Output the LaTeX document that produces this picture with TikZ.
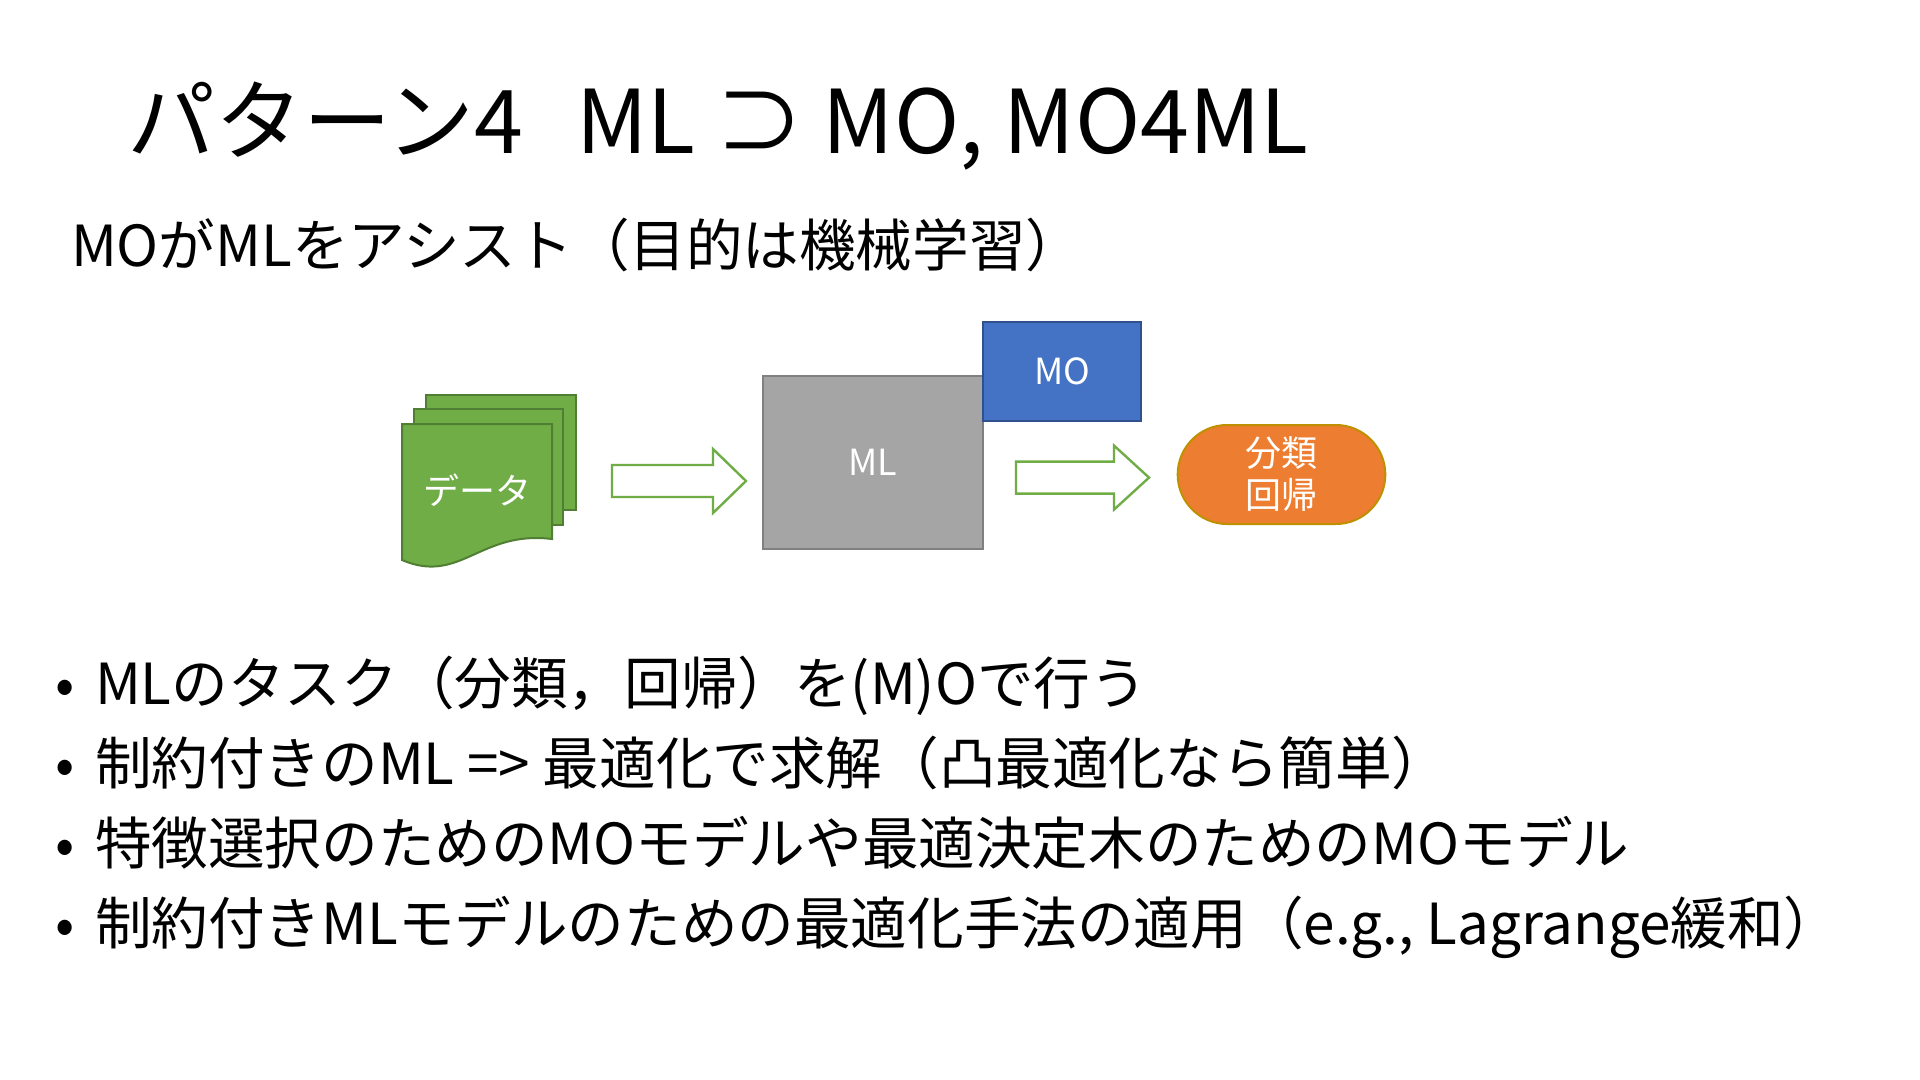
\documentclass[tikz,border=0pt]{standalone}
\usepackage{fontspec}
\setmainfont{Noto Sans CJK JP}
\usepackage{tikz}
\usetikzlibrary{shapes.misc}
\definecolor{datagreen}{HTML}{70AD47}
\definecolor{dataline}{HTML}{507E32}
\definecolor{mlgray}{HTML}{A5A5A5}
\definecolor{mlline}{HTML}{808080}
\definecolor{moblue}{HTML}{4472C4}
\definecolor{moline}{HTML}{2F528F}
\definecolor{resorange}{HTML}{ED7D31}
\definecolor{resline}{HTML}{BF9000}
\tikzset{
    slidetext/.style={anchor=base west, inner sep=0pt, outer sep=0pt},
    titletext/.style={slidetext, font=\fontsize{44}{52}\selectfont},
    bodytext/.style={slidetext, font=\fontsize{28.3}{34}\selectfont},
    boxtext/.style={text=white, align=center, font=\fontsize{18}{21}\selectfont},
    page/.style={fill=datagreen, draw=dataline, line width=1pt},
    blockarrow/.style={fill=white, draw=datagreen, line width=1.2pt},
    mlbox/.style={rectangle, fill=mlgray, draw=mlline, line width=1pt, boxtext},
    mobox/.style={rectangle, fill=moblue, draw=moline, line width=1pt, boxtext},
    resbox/.style={rounded rectangle, fill=resorange, draw=resline, line width=1pt, boxtext}
}
\begin{document}
\begin{tikzpicture}[x=0.5pt, y=-0.5pt]
    \useasboundingbox[fill=white] (0,0) rectangle (1920,1080);

    % title and subtitle
    \node[titletext] (title) at (127,154) {パターン4\hspace{0.6em}ML ⊃ MO, MO4ML};
    \node[bodytext] (sub) at (71,267) {MOがMLをアシスト（目的は機械学習）};

    % data pages
    \draw[page] (426,395) rectangle (576,510);
    \draw[page] (414,409) rectangle (563,525);
    \draw[page] (402,424) -- (552,424) -- (552,539)
        .. controls (480,530) and (460,585) .. (402,560) -- cycle;
    \node[boxtext] (data) at (477,490) {データ};

    \draw[blockarrow] (612,465) -- (713,465) -- (713,449) -- (746,481)
        -- (713,513) -- (713,497) -- (612,497) -- cycle;

    % ML with MO
    \node[mlbox, minimum width=110pt, minimum height=86.3pt] (ml) at (873,462.3) {ML};
    \node[mobox, minimum width=79pt, minimum height=49.5pt] (mo) at (1062,371.5) {MO};

    \draw[blockarrow] (1016,461.6) -- (1114,461.6) -- (1114,445.6) -- (1149,477.6)
        -- (1114,509.6) -- (1114,493.6) -- (1016,493.6) -- cycle;

    \node[resbox, minimum width=110.5pt, minimum height=49.5pt] (res) at (1281.5,474.5) {分類\\回帰};

    % bullets
    \node[bodytext] (d1) at (55,704) {•};
    \node[bodytext] (b1) at (95,704) {MLのタスク（分類，回帰）を(M)Oで行う};
    \node[bodytext] (d2) at (55,784) {•};
    \node[bodytext] (b2) at (95,784) {制約付きのML => 最適化で求解（凸最適化なら簡単）};
    \node[bodytext] (d3) at (55,864) {•};
    \node[bodytext] (b3) at (95,864) {特徴選択のためのMOモデルや最適決定木のためのMOモデル};
    \node[bodytext] (d4) at (55,944) {•};
    \node[bodytext] (b4) at (95,944) {制約付きMLモデルのための最適化手法の適用（e.g., Lagrange緩和）};
\end{tikzpicture}
\end{document}
